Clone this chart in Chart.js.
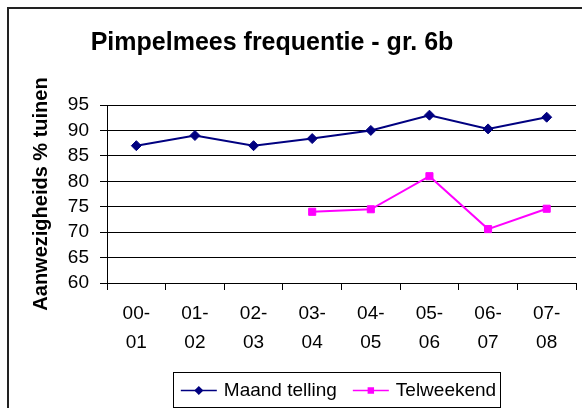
<!DOCTYPE html>
<html>
<head>
<meta charset="utf-8">
<script src="https://cdn.jsdelivr.net/npm/chart.js@4.4.1/dist/chart.umd.min.js"></script>
<style>
  html, body { margin: 0; padding: 0; background: #fff; }
  #wrap { width: 582px; height: 408px; position: relative; }
</style>
</head>
<body>
<div id="wrap"><canvas id="pimpelChart" width="582" height="408"></canvas></div>
<script>
// seizoenen (twee regels per label)
var seasons = [['00-', '01'], ['01-', '02'], ['02-', '03'], ['03-', '04'],
               ['04-', '05'], ['05-', '06'], ['06-', '07'], ['07-', '08']];
var maandTelling = [87, 89, 87, 88.4, 90, 93, 90.3, 92.6];
var telweekend = [null, null, null, 74, 74.5, 81, 70.6, 74.6];
var yTicks = [60, 65, 70, 75, 80, 85, 90, 95];

var chartTitle = 'Pimpelmees frequentie - gr. 6b';
var yTitle = 'Aanwezigheids % tuinen';
var FONT = '"Liberation Sans", Arial, sans-serif';

// titel + kader om de grafiek
var frameAndTitle = {
  id: 'frameAndTitle',
  beforeDraw: function(chart) {
    var ctx = chart.ctx;
    ctx.save();
    ctx.strokeStyle = '#222';
    ctx.lineWidth = 2;
    ctx.strokeRect(8, 8, 620, 440);
    ctx.restore();
  },
  afterDraw: function(chart) {
    var ctx = chart.ctx;
    ctx.save();
    ctx.fillStyle = '#000';
    ctx.font = 'bold 25px ' + FONT;
    ctx.textAlign = 'center';
    ctx.textBaseline = 'middle';
    ctx.fillText(chartTitle, 272, 43);
    ctx.restore();
  }
};

// hele lijn tekenen: geen gecachte segmenten / startpunt
var fullLine = {
  id: 'fullLine',
  beforeDatasetDraw: function(chart, args) {
    var meta = args.meta;
    if (meta.controller) {
      meta.controller._drawStart = 0;
      meta.controller._drawCount = meta.data.length;
    }
    if (meta.dataset) {
      delete meta.dataset._segments;
      meta.dataset._path = undefined;
    }
  }
};

// legenda met lijntje + marker, in een kader
var boxedLegend = {
  id: 'boxedLegend',
  afterDraw: function(chart) {
    var ctx = chart.ctx;
    var area = chart.chartArea;
    ctx.save();
    ctx.font = '19px ' + FONT;
    var items = chart.data.datasets.map(function(ds) {
      return { ds: ds, w: ctx.measureText(ds.label).width };
    });
    var lineLen = 36, gapText = 7, gapItem = 16, padL = 8, padR = 4;
    var total = padL + padR;
    items.forEach(function(it, i) {
      total += lineLen + gapText + it.w + (i > 0 ? gapItem : 0);
    });
    var cx = (area.left + area.right) / 2 - 5;
    var top = area.bottom + 89, h = 35;
    var x = cx - total / 2;
    ctx.strokeStyle = '#000';
    ctx.lineWidth = 1;
    ctx.strokeRect(Math.round(x) + 0.5, Math.round(top) + 0.5, Math.round(total), h);
    var cy = top + h / 2 + 1;
    var px = x + padL;
    items.forEach(function(it, i) {
      if (i > 0) px += gapItem;
      ctx.strokeStyle = it.ds.borderColor;
      ctx.lineWidth = 1.5;
      ctx.beginPath();
      ctx.moveTo(px, cy);
      ctx.lineTo(px + lineLen, cy);
      ctx.stroke();
      ctx.fillStyle = it.ds.pointBackgroundColor;
      Chart.helpers.drawPoint(ctx, {
        pointStyle: it.ds.pointStyle,
        radius: it.ds.pointRadius * 0.7,
        borderWidth: 1
      }, px + lineLen / 2, cy);
      px += lineLen + gapText;
      ctx.fillStyle = '#000';
      ctx.textAlign = 'left';
      ctx.textBaseline = 'middle';
      ctx.fillText(it.ds.label, px, cy);
      px += it.w;
    });
    ctx.restore();
  }
};

var ctx = document.getElementById('pimpelChart').getContext('2d');
var pimpelChart = new Chart(ctx, {
  type: 'line',
  data: {
    labels: seasons,
    datasets: [{
      label: 'Maand telling',
      data: maandTelling,
      borderColor: '#000080',
      backgroundColor: '#000080',
      pointBackgroundColor: '#000080',
      pointBorderColor: '#000080',
      pointStyle: 'rectRot',
      pointRadius: 5,
      pointBorderWidth: 1,
      borderWidth: 2,
      tension: 0
    }, {
      label: 'Telweekend',
      data: telweekend,
      borderColor: '#FF00FF',
      backgroundColor: '#FF00FF',
      pointBackgroundColor: '#FF00FF',
      pointBorderColor: '#FF00FF',
      pointStyle: 'rect',
      pointRadius: 5,
      pointBorderWidth: 1,
      borderWidth: 2,
      tension: 0,
      spanGaps: false,
      showLine: true
    }]
  },
  options: {
    responsive: false,
    animation: false,
    layout: { padding: { top: 105, left: 0, right: 0, bottom: 0 } },
    plugins: {
      legend: { display: false },
      title: { display: false },
      tooltip: { enabled: false }
    },
    scales: {
      x: {
        type: 'category',
        offset: true,
        grid: {
          offset: true,
          drawOnChartArea: false,
          drawTicks: true,
          tickLength: 7,
          color: '#000'
        },
        border: { color: '#000', width: 1 },
        ticks: {
          color: '#000',
          font: { family: FONT, size: 19, lineHeight: 1.5 },
          padding: 10,
          maxRotation: 0,
          autoSkip: false
        },
        afterFit: function(scale) { scale.height = 125; }
      },
      y: {
        min: 60,
        max: 95,
        afterBuildTicks: function(scale) {
          scale.ticks = yTicks.map(function(v) { return { value: v }; });
        },
        grid: {
          color: '#000',
          lineWidth: 1,
          tickLength: 7
        },
        border: { color: '#000', width: 1 },
        ticks: {
          color: '#000',
          font: { family: FONT, size: 19 },
          padding: 11,
          autoSkip: false
        },
        title: {
          display: true,
          text: yTitle,
          color: '#000',
          font: { family: FONT, size: 20, weight: 'bold' },
          padding: { top: 29, bottom: 0 }
        },
        afterFit: function(scale) { scale.width = 107; }
      }
    }
  },
  plugins: [frameAndTitle, fullLine, boxedLegend]
});
</script>
</body>
</html>
